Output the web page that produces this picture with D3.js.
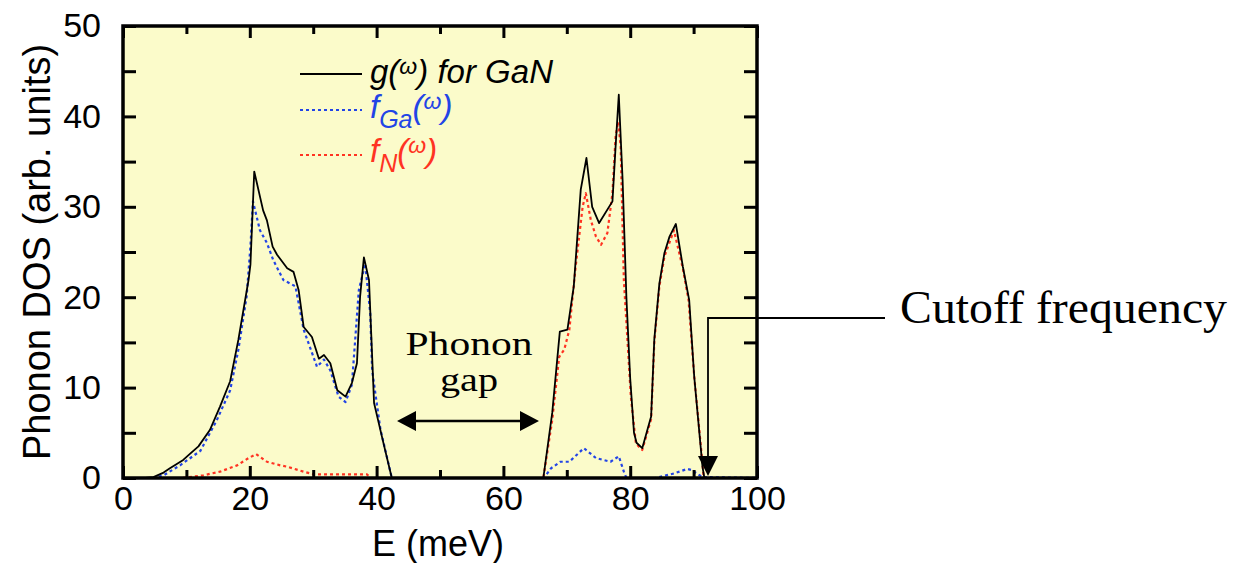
<!DOCTYPE html>
<html>
<head>
<meta charset="utf-8">
<script src="https://cdn.jsdelivr.net/npm/d3@7"></script>
<style>
  body { margin: 0; background: #fff; }
  svg { display: block; }
</style>
</head>
<body>
<svg width="1239" height="563"></svg>
<script>
// total DOS g(w) for GaN
const gE = [0, 3.5, 4.8, 6.4, 7.4, 9.5, 10.6, 11.9, 13.7, 15.3, 16.9, 18.2, 19.8, 20.1, 20.7, 22.1, 22.7, 23.6, 24.3, 25.9, 26.9, 27.7, 28.5, 29.8, 30.9, 31.7, 32.7, 33.8, 35.1, 36.1, 36.9, 37.4, 38.0, 38.8, 39.6, 41.1, 42.4,
  66.3, 67.7, 68.9, 70.1, 71.1, 72.2, 73.1, 74.0, 75.1, 77.2, 77.7, 78.2, 78.8, 79.4, 80.0, 80.6, 81.0, 81.9, 83.3, 83.8, 84.6, 85.4, 86.2, 87.2, 88.3, 89.3, 90.1, 91.4, 91.7, 100]
const gV = [0, 0, 0.1, 0.6, 1.07, 2.0, 2.7, 3.5, 5.3, 7.9, 10.7, 15.3, 21.9, 23.6, 33.9, 29.6, 28.5, 25.6, 24.7, 23.2, 22.8, 20.8, 16.7, 15.6, 13.2, 13.6, 12.7, 9.7, 9.0, 10.5, 12.7, 20.1, 24.4, 21.9, 8.3, 3.8, 0,
  0, 7.2, 16.2, 16.4, 21.2, 31.9, 35.4, 30.0, 28.2, 30.6, 36.7, 42.4, 33.0, 20.0, 11.0, 5.0, 3.9, 3.3, 6.8, 15.3, 21.5, 24.9, 26.7, 28.1, 23.4, 19.7, 11.2, 1.25, 0, 0]

// partial DOS of Ga
const gaE = [0, 4.8, 6.4, 9.0, 12.2, 14.8, 16.9, 18.2, 19.5, 20.1, 20.5, 21.6, 22.7, 23.7, 25.3, 27.2, 28.5, 30.6, 31.7, 32.7, 34.0, 35.1, 36.1, 37.2, 38.2, 39.0, 39.3, 40.6, 42.4,
  66.4, 67.5, 69.0, 70.4, 72.7, 74.6, 76.9, 78.2, 79.0, 79.4, 84.0, 86.9, 89.0, 89.6, 91.4, 100]
const gaV = [0, 0, 0.3, 1.4, 3.0, 6.4, 9.7, 14.2, 20.1, 25.6, 30.6, 27.4, 26.0, 24.1, 21.9, 21.2, 16.4, 12.3, 13.1, 11.9, 9.0, 8.4, 10.3, 20.8, 23.7, 18.2, 11.9, 5.4, 0,
  0, 1.07, 1.8, 1.8, 3.3, 2.2, 1.8, 2.4, 0.7, 0, 0, 0.5, 1.0, 0.9, 0.1, 0]

// partial DOS of N
const nE = [0, 9.3, 12.7, 15.3, 18.0, 19.8, 21.0, 22.7, 24.8, 25.9, 28.5, 30.1, 38.5, 39.0,
  66.3, 67.7, 68.8, 69.6, 70.4, 71.4, 72.5, 73.0, 73.8, 74.6, 75.4, 76.4, 77.2, 77.7, 78.1, 78.5, 79.0, 80.1, 80.9, 81.9, 83.3, 83.8, 84.6, 85.4, 86.9, 88.3, 89.2, 90.1, 91.2, 91.6, 100]
const nV = [0, 0, 0.3, 0.7, 1.4, 2.2, 2.65, 1.8, 1.4, 1.25, 0.7, 0.4, 0.4, 0,
  0, 6.4, 13.4, 14.2, 16.4, 23.4, 30.0, 31.5, 28.5, 26.7, 25.8, 27.1, 31.5, 37.8, 39.4, 36.6, 21.9, 9.0, 3.8, 3.1, 6.5, 15.0, 21.2, 24.5, 27.4, 23.2, 19.7, 11.2, 3.1, 0, 0]

const xTicks = [0, 10, 20, 30, 40, 50, 60, 70, 80, 90, 100]
const yTicks = [0, 5, 10, 15, 20, 25, 30, 35, 40, 45, 50]

const svg = d3.select('svg')
const pl = 123, pr = 757, pt = 26, pb = 478

const x = d3.scaleLinear().domain([0, 100]).range([pl, pr])
const y = d3.scaleLinear().domain([0, 50]).range([pb, pt])

const sans = 'Liberation Sans, Arial, Helvetica, sans-serif'
const serif = 'Liberation Serif, Times New Roman, serif'

svg.append('rect')
    .attr('x', pl).attr('y', pt)
    .attr('width', pr - pl).attr('height', pb - pt)
    .attr('fill', '#fbfbca')

function zip(es, vs) { return es.map((e, i) => [e, vs[i]]) }

const line = d3.line().x(d => x(d[0])).y(d => y(d[1]))

const series = [
    { data: zip(nE, nV), color: '#ff3322', dash: '3,3', width: 2.2 },
    { data: zip(gaE, gaV), color: '#2244e6', dash: '3,3', width: 2.2 },
    { data: zip(gE, gV), color: '#000', dash: null, width: 1.8 }
]

svg.append('g').selectAll('path')
    .data(series)
    .enter().append('path')
    .attr('d', s => line(s.data))
    .attr('fill', 'none')
    .attr('stroke', s => s.color)
    .attr('stroke-width', s => s.width)
    .attr('stroke-dasharray', s => s.dash)
    .attr('stroke-linejoin', 'round')

// axes with inward ticks on all four sides
function styleAxis(g) {
    g.select('.domain').remove()
    g.selectAll('.tick line').attr('stroke', '#000').attr('stroke-width', 3)
    g.selectAll('text').attr('font-family', sans).attr('font-size', 34).attr('fill', '#000')
}

const xLabel = d => d % 20 === 0 ? d : ''
const yLabel = d => d % 10 === 0 ? d : ''

svg.append('g')
    .attr('transform', `translate(0,${pb})`)
    .call(d3.axisBottom(x).tickValues(xTicks).tickSizeInner(-12).tickSizeOuter(0).tickPadding(8).tickFormat(xLabel))
    .call(styleAxis)
    .call(g => g.selectAll('.tick line').attr('y2', d => d % 20 === 0 ? -12 : -8))

svg.append('g')
    .attr('transform', `translate(0,${pt})`)
    .call(d3.axisTop(x).tickValues(xTicks).tickSizeInner(-12).tickSizeOuter(0).tickFormat(''))
    .call(styleAxis)
    .call(g => g.selectAll('.tick line').attr('y2', d => d % 20 === 0 ? 12 : 8))

svg.append('g')
    .attr('transform', `translate(${pl},0)`)
    .call(d3.axisLeft(y).tickValues(yTicks).tickSizeInner(-13).tickSizeOuter(0).tickPadding(22).tickFormat(yLabel))
    .call(styleAxis)

svg.append('g')
    .attr('transform', `translate(${pr},0)`)
    .call(d3.axisRight(y).tickValues(yTicks).tickSizeInner(-13).tickSizeOuter(0).tickFormat(''))
    .call(styleAxis)

svg.append('rect')
    .attr('x', pl).attr('y', pt)
    .attr('width', pr - pl).attr('height', pb - pt)
    .attr('fill', 'none').attr('stroke', '#000').attr('stroke-width', 3.5)

// axis titles
svg.append('text')
    .attr('x', (pl + pr) / 2 - 2).attr('y', 556)
    .attr('text-anchor', 'middle')
    .attr('font-family', sans).attr('font-size', 36)
    .text('E (meV)')

svg.append('text')
    .attr('transform', `translate(50,${(pt + pb) / 2}) rotate(-90)`)
    .attr('text-anchor', 'middle')
    .attr('font-family', sans).attr('font-size', 38)
    .text('Phonon DOS (arb. units)')

// legend
const legend = [
    { color: '#000', dash: null, ly: 74, ty: 83, name: 'g', sub: null, tail: ' for GaN' },
    { color: '#2244e6', dash: '3,3', ly: 110, ty: 118, name: 'f', sub: 'Ga', tail: '' },
    { color: '#ff3322', dash: '3,3', ly: 155, ty: 162, name: 'f', sub: 'N', tail: '' }
]

const lg = svg.append('g')
lg.selectAll('line')
    .data(legend)
    .enter().append('line')
    .attr('x1', 300).attr('x2', 362)
    .attr('y1', d => d.ly).attr('y2', d => d.ly)
    .attr('stroke', d => d.color)
    .attr('stroke-width', d => d.dash ? 2 : 1.8)
    .attr('stroke-dasharray', d => d.dash)

const lt = lg.selectAll('text')
    .data(legend)
    .enter().append('text')
    .attr('x', 370).attr('y', d => d.ty)
    .attr('fill', d => d.color)
    .attr('font-family', sans).attr('font-style', 'italic').attr('font-size', 33)

lt.each(function(d) {
    const t = d3.select(this)
    t.append('tspan').text(d.name)
    if (d.sub) {
        t.append('tspan').attr('dy', 10).attr('font-size', 25).text(d.sub)
        t.append('tspan').attr('dy', -10).text('(')
    } else {
        t.append('tspan').text('(')
    }
    t.append('tspan').attr('dy', -9).attr('font-size', 23).text('ω')
    t.append('tspan').attr('dy', 9).text(')' + d.tail)
})

// annotations
svg.append('text')
    .attr('x', 469).attr('y', 355)
    .attr('text-anchor', 'middle')
    .attr('font-family', serif).attr('font-size', 34)
    .attr('textLength', 127).attr('lengthAdjust', 'spacingAndGlyphs')
    .text('Phonon')

svg.append('text')
    .attr('x', 469).attr('y', 391)
    .attr('text-anchor', 'middle')
    .attr('font-family', serif).attr('font-size', 33)
    .attr('textLength', 58).attr('lengthAdjust', 'spacingAndGlyphs')
    .text('gap')

svg.append('text')
    .attr('x', 900).attr('y', 323)
    .attr('font-family', serif).attr('font-size', 46)
    .attr('textLength', 327).attr('lengthAdjust', 'spacingAndGlyphs')
    .text('Cutoff frequency')

const ann = svg.append('g')
ann.append('line')
    .attr('x1', 414).attr('x2', 521).attr('y1', 421).attr('y2', 421)
    .attr('stroke', '#000').attr('stroke-width', 2.5)
ann.append('path')
    .attr('d', 'M397,421 L416,411 L416,431 Z M539,421 L520,411 L520,431 Z')
    .attr('fill', '#000')

ann.append('path')
    .attr('d', 'M885,318 L708,318 L708,458')
    .attr('fill', 'none').attr('stroke', '#000').attr('stroke-width', 1.8)
ann.append('path')
    .attr('d', 'M698,456 L718,456 L708,476 Z')
    .attr('fill', '#000')
</script>
</body>
</html>
